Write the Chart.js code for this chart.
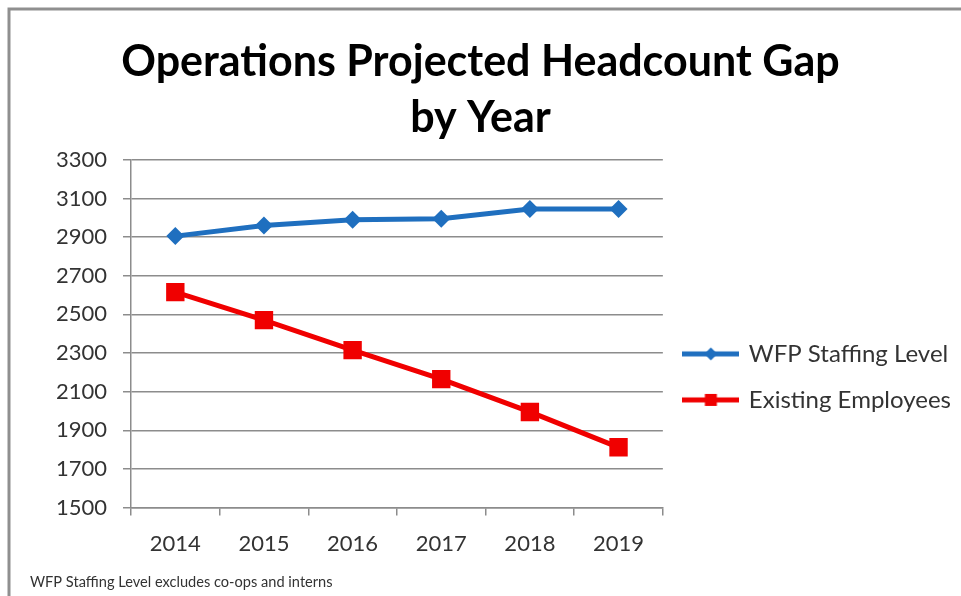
<!DOCTYPE html>
<html><head><meta charset="utf-8">
<script src="https://cdn.jsdelivr.net/npm/chart.js@4/dist/chart.umd.min.js"></script>
<style>html,body{margin:0;padding:0;background:#fff}</style>
</head><body>
<canvas id="c" width="961" height="596"></canvas>
<script>
const years = ['2014', '2015', '2016', '2017', '2018', '2019'];
const wfpStaffing = [2905, 2960, 2990, 2995, 3045, 3045];
const existingEmployees = [2615, 2470, 2315, 2165, 1995, 1812];
const seriesNames = ['WFP Staffing Level', 'Existing Employees'];
const titleLines = ['Operations Projected Headcount Gap', 'by Year'];
const footnote = 'WFP Staffing Level excludes co-ops and interns';
const yMin = 1500, yMax = 3300, yStep = 200;

const BLUE = '#1f6fbf', RED = '#f00000', GRID = '#8c8c8c', TXT = '#333333';
const FONT = 'Lato';

function legendIcon(color, style) {
  const c = document.createElement('canvas');
  c.width = 57; c.height = 20;
  const g = c.getContext('2d');
  g.strokeStyle = color; g.lineWidth = 5;
  g.beginPath(); g.moveTo(0, 10); g.lineTo(57, 10); g.stroke();
  g.fillStyle = color;
  if (style === 'diamond') {
    g.beginPath(); g.moveTo(28.5, 3.5); g.lineTo(35, 10); g.lineTo(28.5, 16.5); g.lineTo(22, 10); g.closePath(); g.fill();
  } else {
    g.fillRect(22.5, 4, 12, 12);
  }
  return c;
}
const icons = [legendIcon(BLUE, 'diamond'), legendIcon(RED, 'square')];

const framePlugin = {
  id: 'frame',
  beforeLayout(chart) {
    // let the right-hand legend be as wide as its labels need
    const lg = chart.legend;
    if (lg && !lg._wide) {
      const orig = lg.update.bind(lg);
      lg.update = (mw, mh, m) => orig(Math.max(mw, 330), mh, m);
      lg._wide = true;
    }
  },
  beforeDraw(chart) {
    const ctx = chart.ctx;
    ctx.save();
    ctx.strokeStyle = '#8f8f8f'; ctx.lineWidth = 3;
    ctx.beginPath(); ctx.moveTo(9, 596); ctx.lineTo(9, 9); ctx.lineTo(961, 9); ctx.stroke();
    ctx.restore();
  },
  afterDraw(chart) {
    const ctx = chart.ctx;
    ctx.save();
    ctx.font = '14.6px ' + FONT; ctx.fillStyle = TXT; ctx.textBaseline = 'middle'; ctx.textAlign = 'left';
    ctx.fillText(footnote, 30, 582);
    ctx.restore();
  }
};

new Chart(document.getElementById('c'), {
  type: 'line',
  data: {
    labels: years,
    datasets: [
      { label: seriesNames[0], data: wfpStaffing, borderColor: BLUE, backgroundColor: BLUE,
        borderWidth: 5, pointStyle: 'rectRot', pointRadius: 9, pointBorderWidth: 0, tension: 0 },
      { label: seriesNames[1], data: existingEmployees, borderColor: RED, backgroundColor: RED,
        borderWidth: 5, pointStyle: 'rect', pointRadius: 13, pointBorderWidth: 0, tension: 0 }
    ]
  },
  options: {
    responsive: false,
    animation: false,
    layout: { padding: { left: 0, right: 0, top: 0, bottom: 24 } },
    plugins: {
      tooltip: { enabled: false },
      title: {
        display: true, text: titleLines, color: '#000',
        font: { family: FONT, size: 43, weight: 'bold', lineHeight: 1.3 },
        padding: { top: 34, bottom: 14 }
      },
      legend: {
        position: 'right', fullSize: false,
        title: { display: true, text: ' ', padding: 36, font: { size: 12 } },
        labels: {
          usePointStyle: true, pointStyleWidth: 52, padding: 22, color: TXT,
          font: { family: FONT, size: 24 },
          generateLabels(chart) {
            return chart.data.datasets.map((ds, i) => ({
              text: ds.label, pointStyle: icons[i], fillStyle: ds.borderColor,
              strokeStyle: ds.borderColor, lineWidth: 0, hidden: false, datasetIndex: i, fontColor: TXT
            }));
          }
        }
      }
    },
    scales: {
      x: {
        offset: true,
        ticks: { color: TXT, font: { family: FONT, size: 22 }, padding: 15 },
        grid: { drawOnChartArea: false, offset: true, tickLength: 8, color: GRID, lineWidth: 1.5 },
        border: { color: GRID, width: 1.5 }
      },
      y: {
        min: yMin, max: yMax,
        ticks: { stepSize: yStep, color: TXT, font: { family: FONT, size: 22 }, padding: 16,
                 callback: v => String(v) },
        grid: { color: GRID, lineWidth: 1.5, tickLength: 8 },
        border: { color: GRID, width: 1.5 },
        afterFit(s) { s.width = 131; }
      }
    }
  },
  plugins: [framePlugin]
});
</script>
</body></html>
